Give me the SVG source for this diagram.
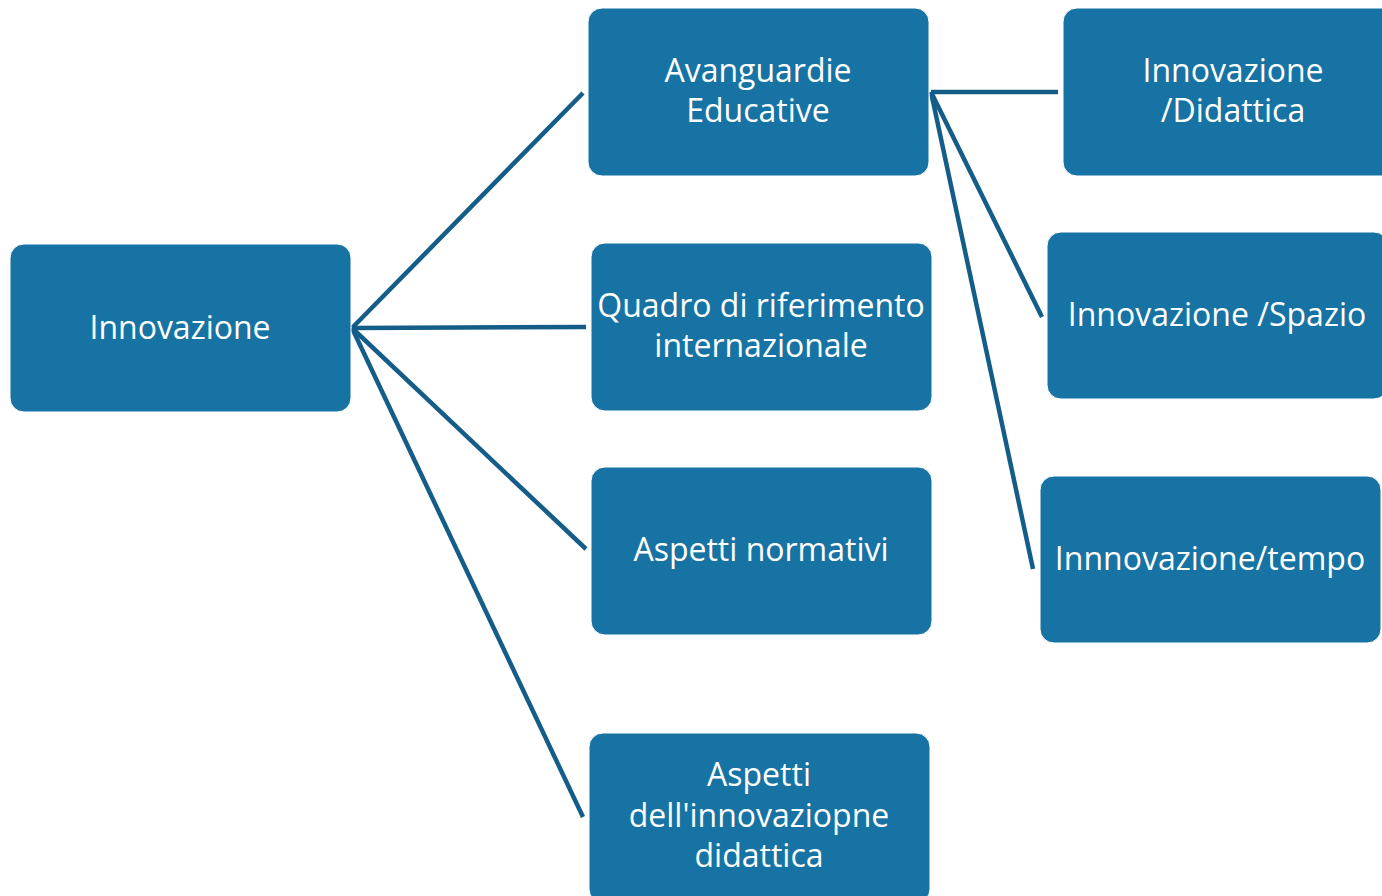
<svg xmlns="http://www.w3.org/2000/svg" width="1382" height="896" viewBox="0 0 1382 896">
<style>
.box{fill:#1673a3;stroke:#ffffff;stroke-width:1}
.t{font-family:"Open Sans","Noto Sans",sans-serif;font-size:32px;fill:#ffffff;text-anchor:middle}
.c{stroke:#135d88;stroke-width:4.5;fill:none;stroke-linecap:butt}
</style>
<rect width="1382" height="896" fill="#ffffff"/>
<g id="connectors">
<line class="c" x1="352" y1="328" x2="583" y2="93"/>
<line class="c" x1="352" y1="328" x2="586" y2="327"/>
<line class="c" x1="352" y1="328" x2="586" y2="549"/>
<line class="c" x1="352" y1="328" x2="583" y2="817"/>
<line class="c" x1="931" y1="92" x2="1058" y2="92"/>
<line class="c" x1="931" y1="92" x2="1042" y2="317"/>
<line class="c" x1="931" y1="92" x2="1033" y2="569"/>
</g>
<g id="n-innovazione">
<rect class="box" x="10" y="244" width="341" height="168" rx="14"/>
<text class="t" x="180" y="339">Innovazione</text>
</g>
<g id="n-avanguardie">
<rect class="box" x="588" y="8" width="341" height="168" rx="14"/>
<text class="t" x="758" y="82">Avanguardie</text>
<text class="t" x="758" y="122">Educative</text>
</g>
<g id="n-quadro">
<rect class="box" x="591" y="243" width="341" height="168" rx="14"/>
<text class="t" x="761" y="317">Quadro di riferimento</text>
<text class="t" x="761" y="357">internazionale</text>
</g>
<g id="n-normativi">
<rect class="box" x="591" y="467" width="341" height="168" rx="14"/>
<text class="t" x="761" y="561">Aspetti normativi</text>
</g>
<g id="n-didattica-aspetti">
<rect class="box" x="589" y="733" width="341" height="170" rx="14"/>
<text class="t" x="759" y="786">Aspetti</text>
<text class="t" x="759" y="827">dell'innovaziopne</text>
<text class="t" x="759" y="867">didattica</text>
</g>
<g id="n-didattica">
<rect class="box" x="1063" y="8" width="341" height="168" rx="14"/>
<text class="t" x="1233" y="82">Innovazione</text>
<text class="t" x="1233" y="122">/Didattica</text>
</g>
<g id="n-spazio">
<rect class="box" x="1047" y="232" width="341" height="167" rx="14"/>
<text class="t" x="1217" y="326">Innovazione /Spazio</text>
</g>
<g id="n-tempo">
<rect class="box" x="1040" y="476" width="341" height="167" rx="14"/>
<text class="t" x="1210" y="570">Innnovazione/tempo</text>
</g>
</svg>
